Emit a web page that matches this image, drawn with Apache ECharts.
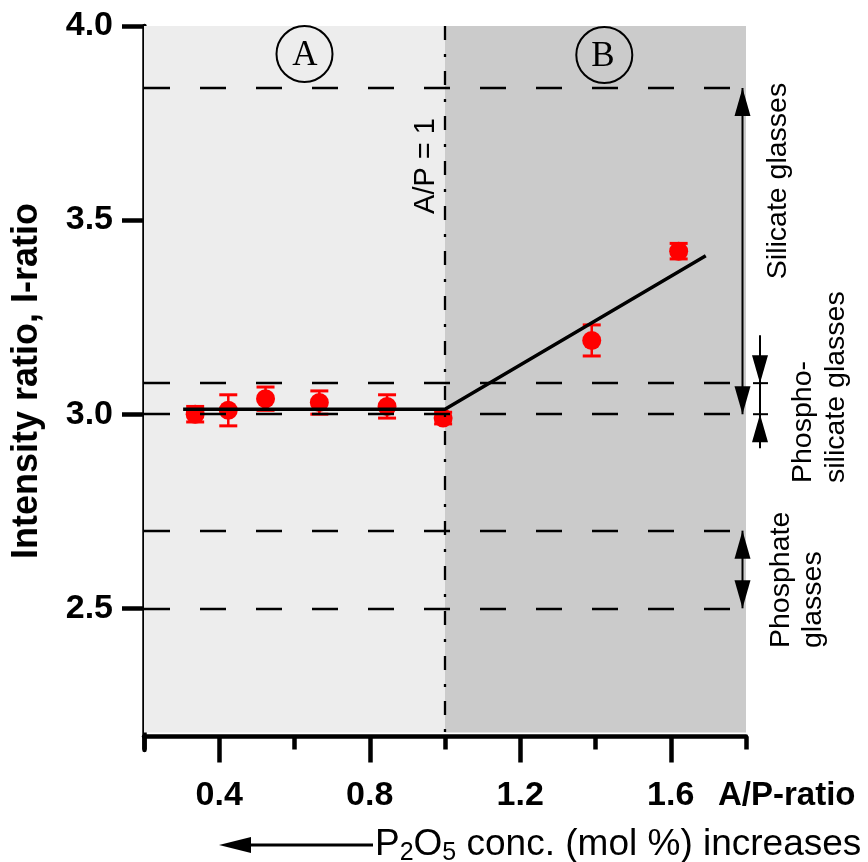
<!DOCTYPE html>
<html><head><meta charset="utf-8">
<script src="https://cdn.jsdelivr.net/npm/echarts@6/dist/echarts.min.js"></script>
<style>html,body{margin:0;padding:0;background:#fff}#c{width:868px;height:862px}</style>
</head><body><div id="c"></div>
<script>
// ---- data ----
const apRatio   = [0.336, 0.424, 0.523, 0.666, 0.846, 0.995, 1.390, 1.621];
const iRatio    = [3.00, 3.01, 3.04, 3.03, 3.02, 2.99, 3.19, 3.42];
const iRatioErr = [0.02, 0.04, 0.03, 0.03, 0.03, 0.015, 0.04, 0.02];
const fitX = [0.304, 1.0, 1.693];
const fitY = [3.013, 3.013, 3.408];
const referenceLevels = [3.84, 3.08, 3.00, 2.70, 2.50];
const apBoundary = 1.0;
const silicateRange = [3.84, 3.00];
const phosphoSilicateRange = [3.08, 3.00];
const phosphateRange = [2.70, 2.50];
const xMajorTicks = [0.4, 0.8, 1.2, 1.6];
const xMinorTicks = [0.2, 0.6, 1.0, 1.4, 1.8];
const yTicks = [2.5, 3.0, 3.5, 4.0];

const FONT = "'Liberation Sans', Arial, Helvetica, sans-serif";
const SERIF = "'Liberation Serif', 'Times New Roman', serif";
const X_MIN = 0.2, X_MAX = 1.8, Y_MAX = 4.0, Y_MIN = 2.135, BG_BOTTOM = 2.18;

const chart = echarts.init(document.getElementById('c'), null, {renderer: 'canvas'});

function head(x, tipY, dir) { // dir: -1 up, +1 down
  const by = tipY - dir * 28;
  return {type: 'polygon', shape: {points: [[x, tipY], [x - 8, by], [x + 8, by]]}, style: {fill: '#000'}};
}
function seg(x1, y1, x2, y2, w, c) {
  return {type: 'line', shape: {x1, y1, x2, y2}, style: {stroke: c || '#000', lineWidth: w || 2}};
}

const option = {
  animation: false,
  backgroundColor: '#fff',
  textStyle: {fontFamily: FONT},
  grid: {left: 144, right: 122, top: 26, bottom: 112},
  xAxis: [
    {type: 'value', min: X_MIN, max: X_MAX, position: 'bottom', offset: -13.5,
     axisLine: {show: true, lineStyle: {color: '#000', width: 4.5}},
     axisTick: {show: true, customValues: xMinorTicks, length: 13, lineStyle: {color: '#000', width: 4.5}},
     axisLabel: {show: false}, splitLine: {show: false}},
    {type: 'value', min: X_MIN, max: X_MAX, position: 'bottom', offset: -13.5,
     axisLine: {show: false},
     axisTick: {show: true, customValues: xMajorTicks, length: 26, lineStyle: {color: '#000', width: 4.5}},
     axisLabel: {show: true, customValues: xMajorTicks, formatter: v => v.toFixed(1), margin: 42,
                 fontSize: 34, fontWeight: 'bold', color: '#000', fontFamily: FONT},
     splitLine: {show: false}}
  ],
  yAxis: {type: 'value', min: Y_MIN, max: Y_MAX,
    axisLine: {show: true, lineStyle: {color: '#000', width: 4.5}},
    axisTick: {show: true, customValues: yTicks, length: 22, lineStyle: {color: '#000', width: 4.5}},
    axisLabel: {show: true, customValues: yTicks, formatter: v => v.toFixed(1), margin: 31,
                fontSize: 34, fontWeight: 'bold', color: '#000', fontFamily: FONT},
    splitLine: {show: false},
    name: 'Intensity ratio, I-ratio', nameLocation: 'middle', nameGap: 99,
    nameTextStyle: {fontSize: 36, fontWeight: 'bold', color: '#000', fontFamily: FONT, padding: [0, 0, 0, 14]}
  },
  series: [
    {type: 'line', name: 'regions', data: [], z: 0, silent: true,
     markArea: {silent: true, data: [
       [{xAxis: X_MIN, yAxis: BG_BOTTOM, itemStyle: {color: '#ededed'}}, {xAxis: apBoundary, yAxis: Y_MAX}],
       [{xAxis: apBoundary, yAxis: BG_BOTTOM, itemStyle: {color: '#cbcbcb'}}, {xAxis: X_MAX, yAxis: Y_MAX}]
     ]},
     markLine: {silent: true, symbol: ['none', 'none'], label: {show: false},
       data: referenceLevels.map(v => ({yAxis: v, lineStyle: {color: '#000', width: 2.3, type: [26, 30]}}))
         .concat([[{coord: [apBoundary, Y_MAX], lineStyle: {color: '#000', width: 2.3, type: [14, 14, 3, 14]}},
                   {coord: [apBoundary, BG_BOTTOM]}]])
     }},
    {type: 'custom', name: 'error bars', z: 2, clip: false,
     data: apRatio.map((x, i) => [x, iRatio[i], iRatioErr[i]]),
     encode: {x: 0, y: 1},
     renderItem: (params, api) => {
       const x = api.value(0), y = api.value(1), e = api.value(2);
       const t = api.coord([x, y + e]), b = api.coord([x, y - e]);
       const hw = 9;
       return {type: 'group', children: [
         seg(t[0], t[1], b[0], b[1], 2.5, '#ff0000'),
         seg(t[0] - hw, t[1], t[0] + hw, t[1], 3, '#ff0000'),
         seg(b[0] - hw, b[1], b[0] + hw, b[1], 3, '#ff0000')
       ]};
     }},
    {type: 'scatter', name: 'I-ratio', z: 3, symbol: 'circle', symbolSize: 19,
     itemStyle: {color: '#ff0000', opacity: 1},
     data: apRatio.map((x, i) => [x, iRatio[i]])},
    {type: 'line', name: 'fit', z: 4, symbol: 'none', silent: true,
     lineStyle: {color: '#000', width: 3.5},
     data: fitX.map((x, i) => [x, fitY[i]])},
    {type: 'custom', name: 'glass ranges', z: 5, clip: false,
     data: [[X_MAX, silicateRange[0], silicateRange[1], 0],
            [X_MAX, phosphoSilicateRange[0], phosphoSilicateRange[1], 1],
            [X_MAX, phosphateRange[0], phosphateRange[1], 0]],
     encode: {x: 0, y: [1, 2]},
     renderItem: (params, api) => {
       const top = api.coord([api.value(0), api.value(1)]);
       const bot = api.coord([api.value(0), api.value(2)]);
       const kind = api.value(3);
       if (kind === 0) {
         const x = top[0] - 3.5;
         return {type: 'group', children: [
           seg(x, top[1], x, bot[1], 2), head(x, top[1], -1), head(x, bot[1], 1)
         ]};
       }
       const x = top[0] + 14;
       return {type: 'group', children: [
         seg(x, top[1] - 48, x, bot[1] + 34, 2),
         head(x, top[1], 1), head(x, bot[1], -1),
         seg(x - 7, top[1], x + 8, top[1], 2), seg(x - 7, bot[1], x + 8, bot[1], 2)
       ]};
     }}
  ],
  graphic: [
    {type: 'circle', shape: {cx: 304.5, cy: 54, r: 28}, style: {fill: null, stroke: '#000', lineWidth: 2}, z: 10},
    {type: 'circle', shape: {cx: 604.3, cy: 55, r: 28}, style: {fill: null, stroke: '#000', lineWidth: 2}, z: 10},
    {type: 'text', x: 305, y: 56, z: 10, style: {text: 'A', fontSize: 35, fontFamily: SERIF, fill: '#000', align: 'center', verticalAlign: 'middle'}},
    {type: 'text', x: 603, y: 57, z: 10, style: {text: 'B', fontSize: 35, fontFamily: SERIF, fill: '#000', align: 'center', verticalAlign: 'middle'}},
    {type: 'text', x: 426, y: 166, rotation: Math.PI / 2, z: 10,
     style: {text: 'A/P = 1', fontSize: 29, fontFamily: FONT, fill: '#000', align: 'center', verticalAlign: 'middle'}},
    {type: 'text', x: 718, y: 796, z: 10,
     style: {text: 'A/P-ratio', fontSize: 33, fontWeight: 'bold', fontFamily: FONT, fill: '#000', align: 'left', verticalAlign: 'middle'}},
    {type: 'text', x: 778, y: 181, rotation: Math.PI / 2, z: 10,
     style: {text: 'Silicate glasses', fontSize: 28.5, fontFamily: FONT, fill: '#000', align: 'center', verticalAlign: 'middle'}},
    {type: 'text', x: 820, y: 483, rotation: Math.PI / 2, z: 10,
     style: {text: 'Phospho-\nsilicate glasses', fontSize: 28.5, lineHeight: 33, fontFamily: FONT, fill: '#000', align: 'left', verticalAlign: 'middle'}},
    {type: 'text', x: 797, y: 648, rotation: Math.PI / 2, z: 10,
     style: {text: 'Phosphate\nglasses', fontSize: 28.5, lineHeight: 32, fontFamily: FONT, fill: '#000', align: 'left', verticalAlign: 'middle'}},
    {type: 'line', z: 10, shape: {x1: 245, y1: 845, x2: 373, y2: 845}, style: {stroke: '#000', lineWidth: 3}},
    {type: 'polygon', z: 10, shape: {points: [[219, 845], [251, 837], [251, 853]]}, style: {fill: '#000'}},
    {type: 'text', x: 375, y: 845, z: 10,
     style: {text: 'P{sub|2}O{sub|5} conc. (mol %) increases', fontSize: 37, lineHeight: 42, fontFamily: FONT, fill: '#000',
             align: 'left', verticalAlign: 'middle',
             rich: {sub: {fontSize: 25, lineHeight: 17, verticalAlign: 'bottom', fontFamily: FONT, fill: '#000'}}}}
  ]
};
chart.setOption(option);
</script></body></html>
